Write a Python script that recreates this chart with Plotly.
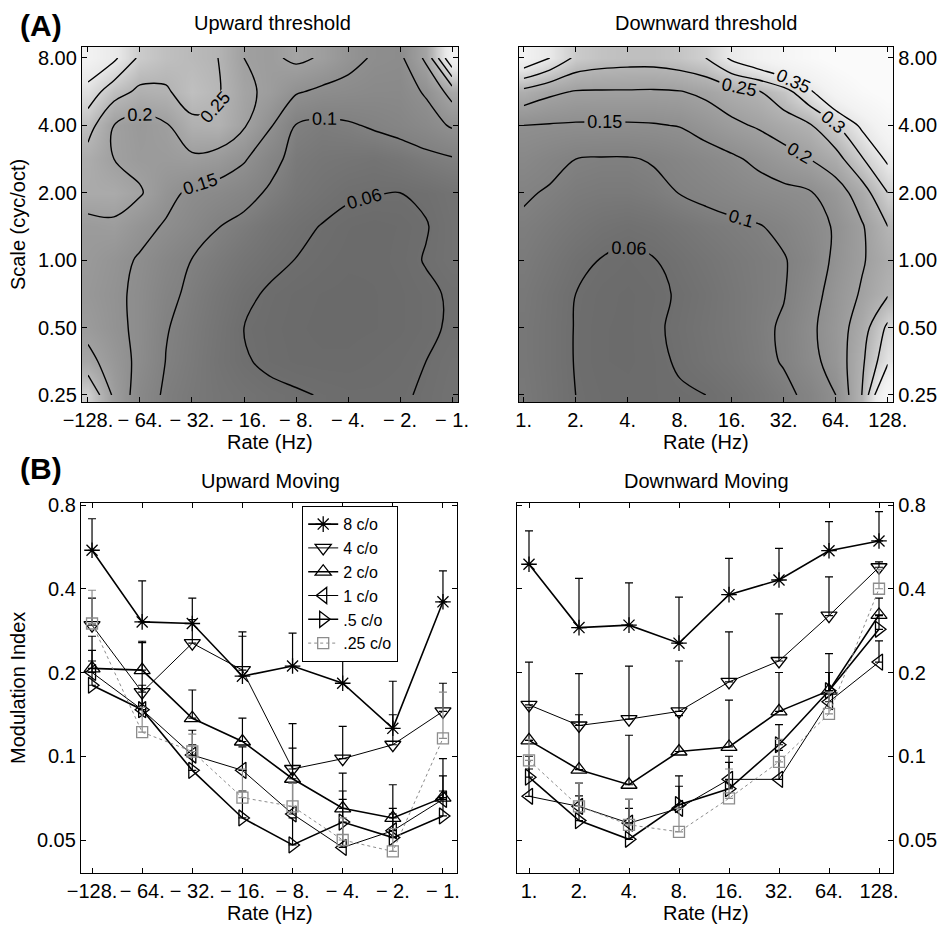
import math
import plotly.graph_objects as go

# ---------------- data ----------------
RATES_UP = ["\u2212128.", "\u2212 64.", "\u2212 32.", "\u2212 16.", "\u2212 8.", "\u2212 4.", "\u2212 2.", "\u2212 1."]
RATES_DOWN = ["1.", "2.", "4.", "8.", "16.", "32.", "64.", "128."]
SCALE_LABELS = ["0.25", "0.50", "1.00", "2.00", "4.00", "8.00"]
RATE_POS = [0, 1, 2, 3, 4, 5, 6, 7]
SCALE_POS = [0, 1, 2, 3, 4, 5]

# threshold maps sampled every half octave (rows: 0.25 -> 8 cyc/oct, cols: rate axis order)
GRID_X = [0, 0.5, 1, 1.5, 2, 2.5, 3, 3.5, 4, 4.5, 5, 5.5, 6, 6.5, 7]
GRID_Y = [0, 0.5, 1, 1.5, 2, 2.5, 3, 3.5, 4, 4.5, 5]

UP_THRESHOLD = [
    [0.30, 0.19, 0.125, 0.093, 0.083, 0.075, 0.070, 0.065, 0.062, 0.059, 0.057, 0.057, 0.058, 0.062, 0.068],
    [0.215, 0.175, 0.138, 0.099, 0.086, 0.072, 0.062, 0.056, 0.053, 0.052, 0.052, 0.054, 0.056, 0.060, 0.066],
    [0.185, 0.162, 0.140, 0.102, 0.088, 0.074, 0.060, 0.055, 0.052, 0.050, 0.050, 0.051, 0.053, 0.057, 0.062],
    [0.175, 0.160, 0.140, 0.110, 0.092, 0.078, 0.065, 0.057, 0.053, 0.051, 0.050, 0.051, 0.053, 0.057, 0.062],
    [0.180, 0.165, 0.145, 0.120, 0.099, 0.087, 0.075, 0.066, 0.0595, 0.055, 0.052, 0.052, 0.055, 0.061, 0.068],
    [0.185, 0.190, 0.165, 0.145, 0.125, 0.101, 0.088, 0.075, 0.066, 0.059, 0.054, 0.052, 0.054, 0.059, 0.068],
    [0.225, 0.225, 0.205, 0.165, 0.140, 0.130, 0.115, 0.094, 0.078, 0.070, 0.063, 0.061, 0.060, 0.063, 0.070],
    [0.230, 0.200, 0.185, 0.185, 0.190, 0.180, 0.155, 0.115, 0.085, 0.078, 0.075, 0.072, 0.078, 0.088, 0.096],
    [0.270, 0.200, 0.180, 0.195, 0.240, 0.245, 0.205, 0.155, 0.098, 0.090, 0.095, 0.105, 0.115, 0.130, 0.155],
    [0.330, 0.270, 0.240, 0.245, 0.270, 0.255, 0.210, 0.190, 0.155, 0.140, 0.135, 0.130, 0.130, 0.155, 0.220],
    [0.400, 0.360, 0.290, 0.270, 0.260, 0.250, 0.200, 0.190, 0.210, 0.195, 0.165, 0.145, 0.140, 0.210, 0.400],
]

DOWN_THRESHOLD = [
    [0.082, 0.071, 0.060, 0.056, 0.055, 0.056, 0.058, 0.060, 0.068, 0.078, 0.090, 0.110, 0.150, 0.250, 0.450],
    [0.080, 0.070, 0.059, 0.054, 0.053, 0.056, 0.062, 0.070, 0.078, 0.088, 0.103, 0.135, 0.170, 0.240, 0.340],
    [0.080, 0.070, 0.059, 0.054, 0.053, 0.057, 0.064, 0.072, 0.080, 0.090, 0.105, 0.140, 0.175, 0.225, 0.310],
    [0.082, 0.071, 0.060, 0.055, 0.053, 0.056, 0.062, 0.070, 0.080, 0.089, 0.098, 0.130, 0.170, 0.205, 0.245],
    [0.087, 0.077, 0.066, 0.059, 0.056, 0.059, 0.067, 0.075, 0.083, 0.090, 0.097, 0.120, 0.160, 0.195, 0.230],
    [0.093, 0.085, 0.077, 0.070, 0.066, 0.070, 0.077, 0.085, 0.091, 0.097, 0.110, 0.130, 0.155, 0.195, 0.250],
    [0.105, 0.096, 0.088, 0.085, 0.085, 0.090, 0.101, 0.110, 0.120, 0.130, 0.138, 0.146, 0.175, 0.225, 0.300],
    [0.125, 0.112, 0.100, 0.097, 0.097, 0.103, 0.115, 0.128, 0.142, 0.160, 0.180, 0.200, 0.230, 0.295, 0.360],
    [0.150, 0.147, 0.145, 0.145, 0.145, 0.147, 0.152, 0.170, 0.190, 0.205, 0.225, 0.245, 0.295, 0.360, 0.440],
    [0.235, 0.210, 0.197, 0.196, 0.196, 0.195, 0.198, 0.210, 0.230, 0.245, 0.280, 0.340, 0.420, 0.480, 0.520],
    [0.400, 0.350, 0.290, 0.275, 0.270, 0.270, 0.280, 0.300, 0.360, 0.400, 0.440, 0.480, 0.520, 0.550, 0.550],
]

SERIES_NAMES = ["8 c/o", "4 c/o", "2 c/o", "1 c/o", ".5 c/o", ".25 c/o"]

# Upward moving: mean modulation index and top of error bar
up_8 = [0.55, 0.304, 0.300, 0.194, 0.211, 0.183, 0.126, 0.359]
up_8_top = [0.714, 0.427, 0.370, 0.280, 0.277, 0.226, 0.186, 0.464]
up_4 = [0.296, 0.170, 0.255, 0.204, 0.090, 0.098, 0.110, 0.145]
up_4_top = [0.370, 0.256, 0.310, 0.270, 0.131, 0.128, 0.141, 0.183]
up_2 = [0.207, 0.204, 0.137, 0.113, 0.083, 0.065, 0.060, 0.071]
up_2_top = [0.270, 0.259, 0.173, 0.137, 0.107, 0.087, 0.079, 0.098]
up_1 = [0.200, 0.147, 0.101, 0.089, 0.062, 0.047, 0.054, 0.070]
up_1_top = [0.240, 0.180, 0.124, 0.108, 0.080, 0.075, 0.065, 0.085]
up_05 = [0.180, 0.147, 0.089, 0.060, 0.048, 0.058, 0.051, 0.061]
up_05_top = [0.220, 0.175, 0.110, 0.075, 0.060, 0.070, 0.062, 0.075]
up_025 = [0.300, 0.122, 0.104, 0.071, 0.066, 0.050, 0.0455, 0.116]
up_025_top = [0.395, 0.150, 0.120, 0.090, 0.080, 0.060, 0.055, 0.170]

# Downward moving
dn_8 = [0.490, 0.290, 0.296, 0.255, 0.381, 0.430, 0.548, 0.594]
dn_8_top = [0.646, 0.436, 0.420, 0.373, 0.514, 0.559, 0.697, 0.757]
dn_4 = [0.153, 0.129, 0.136, 0.145, 0.185, 0.220, 0.320, 0.478]
dn_4_top = [0.218, 0.198, 0.211, 0.220, 0.280, 0.325, 0.441, 0.500]
dn_2 = [0.114, 0.0895, 0.079, 0.104, 0.108, 0.145, 0.172, 0.322]
dn_2_top = [0.150, 0.141, 0.119, 0.140, 0.159, 0.200, 0.234, 0.370]
dn_1 = [0.0718, 0.066, 0.0575, 0.065, 0.0826, 0.0826, 0.157, 0.218]
dn_1_top = [0.090, 0.080, 0.070, 0.078, 0.100, 0.105, 0.200, 0.260]
dn_05 = [0.0841, 0.0587, 0.0503, 0.067, 0.0764, 0.110, 0.172, 0.286]
dn_05_top = [0.100, 0.072, 0.065, 0.085, 0.095, 0.130, 0.200, 0.320]
dn_025 = [0.0967, 0.066, 0.0567, 0.0535, 0.0706, 0.0955, 0.142, 0.400]
dn_025_top = [0.115, 0.080, 0.070, 0.065, 0.090, 0.115, 0.170, 0.470]

Y_TICKS = [0.05, 0.1, 0.2, 0.4, 0.8]
Y_TICK_TEXT = ["0.05", "0.1", "0.2", "0.4", "0.8"]

# ---------------- style ----------------
FONT = "Liberation Sans, Arial, Helvetica, sans-serif"
W, H = 942, 928


def px_x(p):
    return p / W


def px_y(p):
    return 1 - p / H


ZMIN, ZMAX = 0.04, 0.5
GRAY_STOPS = [(0.04, 102), (0.06, 110), (0.08, 119), (0.10, 129), (0.15, 143), (0.20, 160),
              (0.25, 180), (0.30, 208), (0.35, 232), (0.40, 242), (0.50, 250)]
GRAY_SCALE = [[(v - ZMIN) / (ZMAX - ZMIN), "rgb({0},{0},{0})".format(g)] for v, g in GRAY_STOPS]

STYLES = [
    dict(symbol="asterisk-open", size=13, width=1.6, color="black", dash="solid"),
    dict(symbol="triangle-down-open", size=14, width=1.0, color="black", dash="solid"),
    dict(symbol="triangle-up-open", size=14, width=1.6, color="black", dash="solid"),
    dict(symbol="triangle-left-open", size=14, width=1.0, color="black", dash="solid"),
    dict(symbol="triangle-right-open", size=14, width=1.6, color="black", dash="solid"),
    dict(symbol="square-open", size=11, width=1.0, color="#8c8c8c", dash="dot"),
]

fig = go.Figure()

# ---------------- (A) threshold maps ----------------
for z, xa, ya in [(UP_THRESHOLD, "x", "y"), (DOWN_THRESHOLD, "x2", "y2")]:
    fig.add_trace(go.Heatmap(x=GRID_X, y=GRID_Y, z=z, colorscale=GRAY_SCALE, zmin=ZMIN, zmax=ZMAX,
                             zsmooth="best", showscale=False, xaxis=xa, yaxis=ya, hoverinfo="skip"))
    for start, end in [(0.06, 0.06), (0.1, 0.351)]:
        fig.add_trace(go.Contour(
            x=GRID_X, y=GRID_Y, z=z, xaxis=xa, yaxis=ya, showscale=False, hoverinfo="skip",
            colorscale=[[0, "black"], [1, "black"]],
            contours=dict(coloring="lines", start=start, end=end, size=0.05, showlabels=True,
                          labelfont=dict(size=18, color="black", family=FONT), labelformat=".2~g"),
            line=dict(width=1.4, smoothing=1.0)))

# ---------------- (B) modulation index ----------------
up_means = [up_8, up_4, up_2, up_1, up_05, up_025]
up_tops = [up_8_top, up_4_top, up_2_top, up_1_top, up_05_top, up_025_top]
dn_means = [dn_8, dn_4, dn_2, dn_1, dn_05, dn_025]
dn_tops = [dn_8_top, dn_4_top, dn_2_top, dn_1_top, dn_05_top, dn_025_top]

for panel, (means, tops, xa, ya) in enumerate([(up_means, up_tops, "x3", "y3"), (dn_means, dn_tops, "x4", "y4")]):
    for name, st, m, t in zip(SERIES_NAMES, STYLES, means, tops):
        fig.add_trace(go.Scatter(
            x=RATE_POS, y=m, name=name, mode="lines+markers", xaxis=xa, yaxis=ya,
            showlegend=(panel == 0),
            line=dict(color=st["color"], width=st["width"], dash=st["dash"]),
            marker=dict(symbol=st["symbol"], size=st["size"], color=st["color"],
                        line=dict(width=1.3, color=st["color"])),
            error_y=dict(type="data", symmetric=False, array=[a - b for a, b in zip(t, m)],
                         arrayminus=[0] * len(m), color=st["color"], thickness=1.2, width=4)))


def frame_axis(**kw):
    base = dict(showline=True, linecolor="black", linewidth=1.3, mirror="allticks", ticks="inside",
                ticklen=5, tickcolor="black", tickwidth=1, showgrid=False, zeroline=False,
                tickfont=dict(size=20, family=FONT, color="black"), fixedrange=True,
                tickangle=0, automargin=False)
    base.update(kw)
    return base


top_dom = [px_y(402), px_y(47)]
bot_dom = [px_y(873), px_y(503)]
log_range = [math.log10(0.05) - 33 / 278.2, math.log10(0.8) + 2 / 278.2]

fig.update_layout(
    width=W, height=H, autosize=False, margin=dict(l=0, r=0, t=0, b=0, pad=0),
    paper_bgcolor="white", plot_bgcolor="white",
    font=dict(family=FONT, color="black", size=20),
    xaxis=frame_axis(domain=[px_x(82), px_x(458)], anchor="y", range=[-0.115, 7.115],
                     tickvals=RATE_POS, ticktext=RATES_UP),
    yaxis=frame_axis(domain=top_dom, anchor="x", range=[-0.104, 5.163],
                     tickvals=SCALE_POS, ticktext=SCALE_LABELS),
    xaxis2=frame_axis(domain=[px_x(519), px_x(893)], anchor="y2", range=[-0.09, 7.1],
                      tickvals=RATE_POS, ticktext=RATES_DOWN),
    yaxis2=frame_axis(domain=top_dom, anchor="x2", side="right", range=[-0.104, 5.163],
                      tickvals=SCALE_POS, ticktext=SCALE_LABELS),
    xaxis3=frame_axis(domain=[px_x(81), px_x(457)], anchor="y3", range=[-0.22, 7.28],
                      tickvals=RATE_POS, ticktext=RATES_UP),
    yaxis3=frame_axis(domain=bot_dom, anchor="x3", type="log", range=log_range,
                      tickvals=Y_TICKS, ticktext=Y_TICK_TEXT),
    xaxis4=frame_axis(domain=[px_x(517), px_x(893)], anchor="y4", range=[-0.24, 7.28],
                      tickvals=RATE_POS, ticktext=RATES_DOWN),
    yaxis4=frame_axis(domain=bot_dom, anchor="x4", side="right", type="log", range=log_range,
                      tickvals=Y_TICKS, ticktext=Y_TICK_TEXT),
    legend=dict(x=px_x(302), y=px_y(506), xanchor="left", yanchor="top", bgcolor="white",
                bordercolor="black", borderwidth=1.2, font=dict(size=16, family=FONT),
                tracegroupgap=0, itemwidth=30),
)


def label(text, x, y, size=20, bold=False, angle=0):
    fig.add_annotation(text=("<b>%s</b>" % text) if bold else text, x=px_x(x), y=px_y(y),
                       xref="paper", yref="paper", showarrow=False, textangle=angle,
                       font=dict(size=size, family=FONT, color="black"),
                       xanchor="center", yanchor="middle")


label("(A)", 41, 25, size=30, bold=True)
label("(B)", 41, 468, size=30, bold=True)
label("Upward threshold", 272, 23)
label("Downward threshold", 706, 23)
label("Upward Moving", 270, 481)
label("Downward Moving", 706, 481)
label("Rate (Hz)", 270, 442)
label("Rate (Hz)", 706, 442)
label("Rate (Hz)", 270, 913)
label("Rate (Hz)", 706, 913)
label("Scale (cyc/oct)", 18, 225, angle=-90)
label("Modulation Index", 18, 688, angle=-90)

fig.write_html("out.html", config={"displayModeBar": False},
               post_script="document.body.style.margin='0px';document.body.style.overflow='hidden';")
